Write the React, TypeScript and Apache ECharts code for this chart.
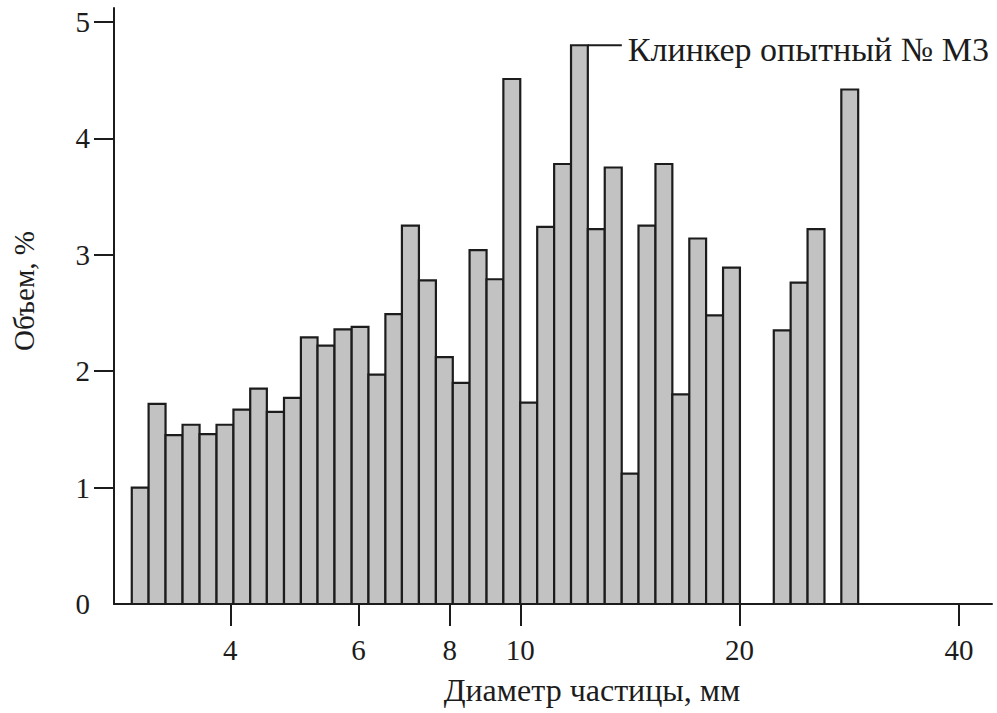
import React, { useEffect, useRef } from "react";
import * as echarts from "echarts";

// Bin edges of the particle-size classes, mm (log-uniform bins)
const binEdgesMm = [
  2.93, 3.09, 3.26, 3.44, 3.63, 3.83, 4.04, 4.26, 4.49, 4.74, 5.0, 5.27, 5.56,
  5.87, 6.19, 6.53, 6.88, 7.26, 7.66, 8.08, 8.52, 8.99, 9.48, 10.0, 10.55,
  11.13, 11.74, 12.38, 13.06, 13.78, 14.53, 15.33, 16.17, 17.06, 17.99, 18.98,
  20.02, 21.12, 22.28, 23.5, 24.79, 26.15, 27.58, 29.09,
];

// Volume share per bin, %
const volumePct: (number | null)[] = [
  1.0, 1.72, 1.45, 1.54, 1.46, 1.54, 1.67, 1.85, 1.65, 1.77, 2.29, 2.22, 2.36,
  2.38, 1.97, 2.49, 3.25, 2.78, 2.12, 1.9, 3.04, 2.79, 4.51, 1.73, 3.24, 3.78,
  4.8, 3.22, 3.75, 1.12, 3.25, 3.78, 1.8, 3.14, 2.48, 2.89, null, null, 2.35,
  2.76, 3.22, null, 4.42,
];

const xTickMm = [4, 6, 8, 10, 20, 40];
const yTickLabels = [0, 1, 2, 3, 4, 5];
const yTickMarks = [1, 2, 3, 4, 5];

const annotatedBin = 26;
const annotationText = "Клинкер опытный № М3";
const xAxisTitle = "Диаметр частицы, мм";
const yAxisTitle = "Объем, %";

const xMinMm = 2.77;
const xMaxMm = 44.4;
const yMax = 5.12;

const INK = "#1c1c1c";
const FILL = "#c2c2c2";
const FONT = '"Liberation Serif", "DejaVu Serif", serif';

export default function App() {
  const ref = useRef<HTMLDivElement>(null);

  useEffect(() => {
    if (!ref.current) return;
    const chart = echarts.init(ref.current, undefined, { renderer: "svg" });

    const data: number[][] = [];
    volumePct.forEach((v, i) => {
      if (v === null) return;
      data.push([Math.log10(binEdgesMm[i]), Math.log10(binEdgesMm[i + 1]), v, i]);
    });

    const option: any = {
      animation: false,
      backgroundColor: "#ffffff",
      grid: { left: 114, right: 5, top: 8, bottom: 109, containLabel: false },
      xAxis: {
        type: "value",
        min: Math.log10(xMinMm),
        max: Math.log10(xMaxMm),
        name: xAxisTitle,
        nameLocation: "middle",
        nameGap: 70,
        nameTextStyle: {
          fontFamily: FONT,
          fontSize: 32,
          color: INK,
          padding: [0, 0, 0, 78],
        },
        axisLine: { show: true, lineStyle: { color: INK, width: 2 } },
        axisTick: {
          show: true,
          length: 22,
          inside: false,
          lineStyle: { color: INK, width: 2 },
          customValues: xTickMm.map((v) => Math.log10(v)),
        },
        axisLabel: {
          margin: 31,
          fontFamily: FONT,
          fontSize: 29,
          color: INK,
          customValues: xTickMm.map((v) => Math.log10(v)),
          formatter: (v: number) => String(Math.round(Math.pow(10, v))),
        },
        splitLine: { show: false },
      },
      yAxis: {
        type: "value",
        min: 0,
        max: yMax,
        name: yAxisTitle,
        nameLocation: "middle",
        nameGap: 76,
        nameTextStyle: {
          fontFamily: FONT,
          fontSize: 29,
          color: INK,
          padding: [0, 0, 0, 30],
        },
        axisLine: { show: true, lineStyle: { color: INK, width: 2 } },
        axisTick: {
          show: true,
          length: 20,
          lineStyle: { color: INK, width: 2 },
          customValues: yTickMarks,
        },
        axisLabel: {
          margin: 24,
          fontFamily: FONT,
          fontSize: 29,
          color: INK,
          customValues: yTickLabels,
        },
        splitLine: { show: false },
      },
      series: [
        {
          type: "custom",
          clip: false,
          data,
          encode: { x: [0, 1], y: 2 },
          renderItem: (params: any, api: any) => {
            const x0 = api.value(0);
            const x1 = api.value(1);
            const v = api.value(2);
            const bin = api.value(3);
            const p0 = api.coord([x0, 0]);
            const p1 = api.coord([x1, v]);
            const rect = {
              type: "rect",
              shape: {
                x: p0[0],
                y: p1[1],
                width: p1[0] - p0[0],
                height: p0[1] - p1[1],
              },
              style: { fill: FILL, stroke: INK, lineWidth: 2.2 },
            };
            if (bin !== annotatedBin) return rect;
            return {
              type: "group",
              children: [
                rect,
                {
                  type: "line",
                  shape: { x1: p1[0], y1: p1[1], x2: p1[0] + 34, y2: p1[1] },
                  style: { stroke: INK, lineWidth: 2 },
                },
                {
                  type: "text",
                  x: p1[0] + 40,
                  y: p1[1] + 4,
                  style: {
                    text: annotationText,
                    fontFamily: FONT,
                    fontSize: 34,
                    fill: INK,
                    align: "left",
                    verticalAlign: "middle",
                  },
                },
              ],
            };
          },
        },
      ],
    };

    chart.setOption(option);
    return () => chart.dispose();
  }, []);

  return (
    <div
      ref={ref}
      style={{ position: "absolute", left: 0, top: 0, width: 997, height: 713 }}
    />
  );
}
